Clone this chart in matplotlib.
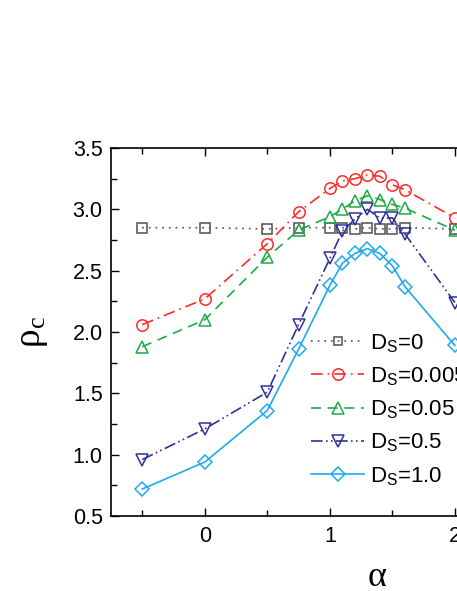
import matplotlib
matplotlib.use("Agg")
import matplotlib.pyplot as plt
from matplotlib.ticker import MultipleLocator, FormatStrFormatter

plt.rcParams['font.family'] = ['Liberation Sans', 'DejaVu Sans']
plt.rcParams['mathtext.fontset'] = 'custom'
plt.rcParams['mathtext.rm'] = 'Liberation Serif'
plt.rcParams['mathtext.it'] = 'Liberation Serif:italic'
plt.rcParams['mathtext.sf'] = 'Liberation Sans'
plt.rcParams['mathtext.default'] = 'rm'

alpha = [-0.5, 0.0, 0.5, 0.75, 1.0, 1.1, 1.2, 1.3, 1.4, 1.5, 1.6, 2.0]
rho_ds0 = [2.85, 2.85, 2.84, 2.85, 2.85, 2.85, 2.84, 2.85, 2.84, 2.84, 2.85, 2.84]
rho_ds0005 = [2.06, 2.27, 2.72, 2.98, 3.17, 3.23, 3.25, 3.28, 3.27, 3.20, 3.16, 2.93]
rho_ds005 = [1.88, 2.10, 2.61, 2.83, 2.94, 3.00, 3.07, 3.11, 3.08, 3.04, 3.01, 2.83]
rho_ds05 = [0.96, 1.21, 1.51, 2.06, 2.60, 2.82, 2.92, 3.00, 2.93, 2.93, 2.80, 2.24]
rho_ds1 = [0.72, 0.94, 1.36, 1.86, 2.38, 2.56, 2.64, 2.68, 2.64, 2.54, 2.37, 1.89]
labels = [r'$\mathsf{D_S}$=0', r'$\mathsf{D_S}$=0.005', r'$\mathsf{D_S}$=0.05',
          r'$\mathsf{D_S}$=0.5', r'$\mathsf{D_S}$=1.0']

fig = plt.figure(figsize=(4.57, 5.91), dpi=100)
ax_w = (642.5 - 111) / 457
ax_h = (516 - 148) / 591
ax = fig.add_axes([111/457, 75/591, ax_w, ax_h])

series = [rho_ds0, rho_ds0005, rho_ds005, rho_ds05, rho_ds1]
colors = ['#505050', '#ff2a2a', '#1faa48', '#30309a', '#1fa9ee']
markers = ['s', 'o', '^', 'v', 'D']
msizes = [7, 8.2, 9, 9, 7.2]
styles = [(0, (1, 3)), (0, (7, 3, 1, 3)), (0, (6, 4)), (0, (7, 2, 1, 2, 1, 2)), '-']

for y, c, m, ms, ls, lab in zip(series, colors, markers, msizes, styles, labels):
    ax.plot(alpha, y, color=c, linestyle=ls, linewidth=1.2, marker=m, markersize=ms,
            markerfacecolor='none', markeredgecolor=c, markeredgewidth=1.1, label=lab,
            clip_on=False)

ax.set_xlim(-0.75, 3.5)
ax.set_ylim(0.5, 3.5)
ax.xaxis.set_major_locator(MultipleLocator(1))
ax.xaxis.set_minor_locator(MultipleLocator(0.5))
ax.yaxis.set_major_locator(MultipleLocator(0.5))
ax.yaxis.set_minor_locator(MultipleLocator(0.25))
ax.yaxis.set_major_formatter(FormatStrFormatter('%.1f'))
ax.tick_params(which='both', direction='in', top=True, right=True, labelsize=15.5, width=1)
ax.tick_params(which='major', length=6)
ax.tick_params(which='minor', length=4)
ax.tick_params(axis='x', pad=7)
ax.tick_params(axis='y', pad=6)
for s in ax.spines.values():
    s.set_linewidth(1.2)

ax.set_xlabel(r'$\alpha$', fontsize=26)
ax.set_ylabel(r'$\rho_c$', fontsize=27)
ax.xaxis.set_label_coords(0.5, -(576 - 516) / 368, transform=ax.transAxes)
ax.yaxis.set_label_coords((32 - 111) / 531.5, 0.5, transform=ax.transAxes)
ax.xaxis.label.set_va('center')
ax.yaxis.label.set_va('center')

leg = ax.legend(loc='upper left', frameon=False, fontsize=16, handlelength=2.4,
                handletextpad=0.25, labelspacing=0.48, borderaxespad=0, borderpad=0,
                markerscale=1.0)
leg.legend_handles[0].set_markersize(5.5)
leg.set_bbox_to_anchor(((311 - 111) / 531.5, 1 - (332 - 148) / 368), transform=ax.transAxes)

fig.savefig('out.png', dpi=100)
